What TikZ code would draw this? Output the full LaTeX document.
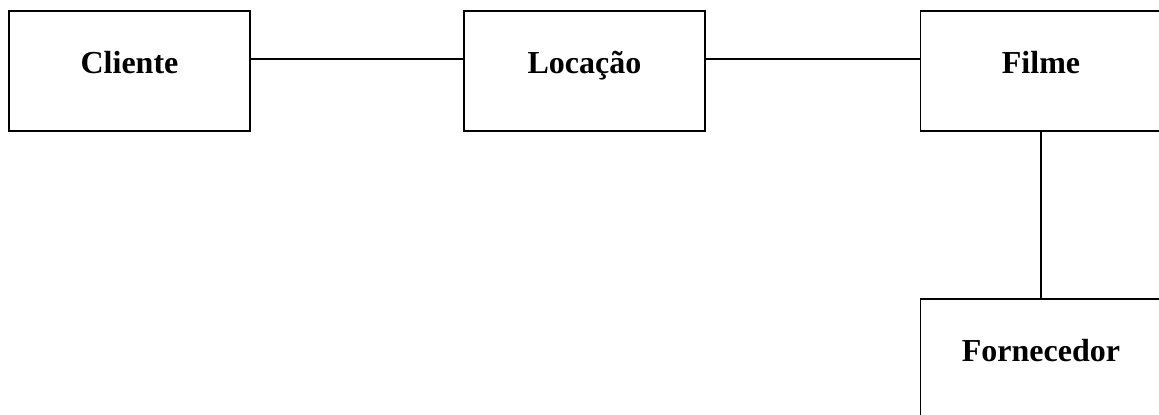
\documentclass[tikz,border=0pt]{standalone}
\usepackage{fontspec}
\setmainfont{Liberation Serif}
\usepackage{tikz}
\usetikzlibrary{positioning}

\begin{document}
\begin{tikzpicture}[x=0.75pt, y=-0.75pt,
    entbox/.style={draw, line width=1.2pt, minimum width=180.75pt, minimum height=90pt,
      inner sep=0pt, text height=0.7em, text depth=0.3em,
      font=\fontsize{24}{28}\selectfont\bfseries},
    link/.style={line width=1pt}]
  \useasboundingbox (0,0) rectangle (1159,414);
  \node[entbox] (cliente) at (129.5,71) {Cliente};
  \node[entbox] (locacao) at (584.5,71) {Locação};
  \node[entbox] (filme) at (1041,71) {Filme};
  \node[entbox] (fornecedor) at (1041,359) {Fornecedor};
  \draw[link] ([yshift=9pt]cliente.east) -- ([yshift=9pt]locacao.west);
  \draw[link] ([yshift=9pt]locacao.east) -- ([yshift=9pt]filme.west);
  \draw[link] (filme.south) -- (fornecedor.north);
\end{tikzpicture}
\end{document}
